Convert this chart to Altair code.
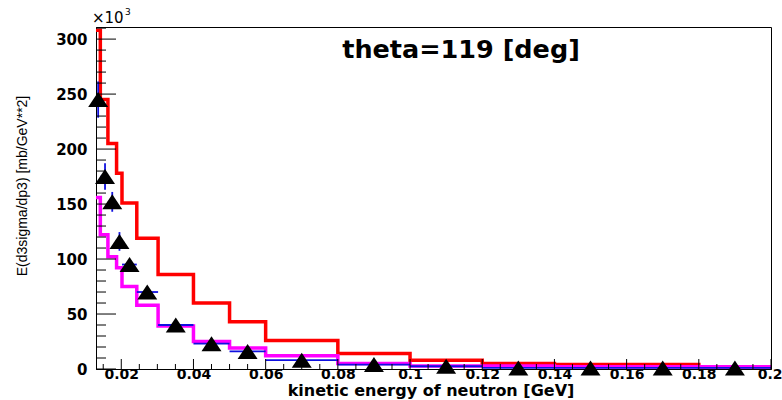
import altair as alt
import pandas as pd

# ---------------- data ----------------
bin_edges = [0.013, 0.0142, 0.0163, 0.0187, 0.0202, 0.0243, 0.0302, 0.04, 0.05,
             0.06, 0.08, 0.1, 0.12, 0.14, 0.16, 0.18, 0.2]
red_values = [308, 245, 205, 178, 151, 119, 86, 60, 43, 26, 14, 8, 5, 4, 4, 2]
magenta_values = [156, 122, 102, 92, 75, 58, 39, 25, 19, 12, 5, 2.7, 2.7, 2, 2, 2]

point_x = [0.0136, 0.0155, 0.0175, 0.0195, 0.0223, 0.0272, 0.0351, 0.045, 0.055,
           0.07, 0.09, 0.11, 0.13, 0.15, 0.17, 0.19]
point_y = [245, 175, 152, 116, 95, 70, 40, 23, 16, 8, 4, 2.5, 1, 1, 1, 1]
point_err = [16.5, 12, 9, 8.5, 5, 3.5, 2.5, 2, 1.5, 1, 0.6, 0.4, 0.3, 0.2, 0.2, 0.2]

x_major_ticks = [0.02, 0.04, 0.06, 0.08, 0.1, 0.12, 0.14, 0.16, 0.18, 0.2]
y_major_ticks = [0, 50, 100, 150, 200, 250, 300]

title_text = "theta=119 [deg]"
x_title = "kinetic energy of neutron [GeV]"
y_title = "E(d3sigma/dp3) [mb/GeV**2]"

X_DOMAIN = [0.013, 0.2]
Y_DOMAIN = [0, 311]

# minor tick grids
x_minor_ticks = [round(0.015 + 0.005 * i, 3) for i in range(37)]
x_minor_ticks = [v for v in x_minor_ticks if all(abs(v - m) > 1e-9 for m in x_major_ticks)]
y_minor_ticks = [10 * i for i in range(32) if (10 * i) % 50 != 0]

W, H = 675, 342

xs = alt.Scale(domain=X_DOMAIN, nice=False, zero=False)
ys = alt.Scale(domain=Y_DOMAIN, nice=False, zero=False)


def hist_frame(vals):
    return pd.DataFrame({"x": bin_edges, "y": vals + [vals[-1]]})


red_df = hist_frame(red_values)
mag_df = hist_frame(magenta_values)

pts = pd.DataFrame({
    "x": point_x,
    "y": point_y,
    "lo": [y - e for y, e in zip(point_y, point_err)],
    "hi": [y + e for y, e in zip(point_y, point_err)],
    "xlo": bin_edges[:-1],
    "xhi": bin_edges[1:],
})

x_axis = alt.Axis(values=x_major_ticks, title=None, ticks=False, tickSize=0, grid=False,
                  labelFont="DejaVu Sans", labelFontWeight="bold", labelFontSize=14,
                  labelColor="black", labelPadding=-2, labelFlush=2, labelFlushOffset=11,
                  labelOverlap=False, labelBound=False,
                  domainColor="black", labelExpr="format(datum.value, '~g')")
y_axis = alt.Axis(values=y_major_ticks, title=None, ticks=False, tickSize=0, grid=False,
                  labelFont="DejaVu Sans", labelFontWeight="bold", labelFontSize=15,
                  labelColor="black", labelPadding=9, labelFlush=False,
                  domainColor="black")

red_line = alt.Chart(red_df).mark_line(
    interpolate="step-after", color="#ff0000", strokeWidth=3.5, clip=True
).encode(x=alt.X("x:Q", scale=xs, axis=x_axis), y=alt.Y("y:Q", scale=ys, axis=y_axis))

mag_line = alt.Chart(mag_df).mark_line(
    interpolate="step-after", color="#ff00ff", strokeWidth=3.5, clip=True
).encode(x=alt.X("x:Q", scale=xs), y=alt.Y("y:Q", scale=ys))

err_v = alt.Chart(pts).mark_rule(color="#1010e0", strokeWidth=1.8).encode(
    x=alt.X("x:Q", scale=xs), y=alt.Y("lo:Q", scale=ys), y2="hi:Q")
err_h = alt.Chart(pts).mark_rule(color="#1010e0", strokeWidth=1.8).encode(
    x=alt.X("xlo:Q", scale=xs), x2="xhi:Q", y=alt.Y("y:Q", scale=ys))

tri = alt.Chart(pts).mark_point(
    shape="M-1,0.75L1,0.75L0,-0.75Z", filled=True, color="black", opacity=1, size=400
).encode(x=alt.X("x:Q", scale=xs), y=alt.Y("y:Q", scale=ys))

# inside ticks (ROOT style)
yt_major = alt.Chart(pd.DataFrame({"v": y_major_ticks})).mark_rule(color="black", strokeWidth=1).encode(
    y=alt.Y("v:Q", scale=ys), x=alt.value(0), x2=alt.value(20))
yt_minor = alt.Chart(pd.DataFrame({"v": y_minor_ticks})).mark_rule(color="black", strokeWidth=1).encode(
    y=alt.Y("v:Q", scale=ys), x=alt.value(0), x2=alt.value(10))
xt_major = alt.Chart(pd.DataFrame({"v": x_major_ticks})).mark_rule(color="black", strokeWidth=1).encode(
    x=alt.X("v:Q", scale=xs), y=alt.value(H), y2=alt.value(H - 10))
xt_minor = alt.Chart(pd.DataFrame({"v": x_minor_ticks})).mark_rule(color="black", strokeWidth=1).encode(
    x=alt.X("v:Q", scale=xs), y=alt.value(H), y2=alt.value(H - 5))

# texts
title_mark = alt.Chart(pd.DataFrame({"t": [title_text]})).mark_text(
    font="DejaVu Sans", fontWeight="bold", fontSize=25.5, color="black",
    align="center", baseline="middle"
).encode(text="t:N", x=alt.value(365), y=alt.value(23))

xtitle_mark = alt.Chart(pd.DataFrame({"t": [x_title]})).mark_text(
    font="DejaVu Sans", fontWeight="bold", fontSize=16, color="black",
    align="center", baseline="alphabetic"
).encode(text="t:N", x=alt.value(335), y=alt.value(H + 27))

ytitle_mark = alt.Chart(pd.DataFrame({"t": [y_title]})).mark_text(
    font="Liberation Sans", fontSize=14, color="black", angle=270,
    align="center", baseline="middle"
).encode(text="t:N", x=alt.value(-73), y=alt.value(159))

exp_mark = alt.Chart(pd.DataFrame({"t": ["×10"]})).mark_text(
    font="DejaVu Sans", fontSize=15, color="black", align="left", baseline="alphabetic"
).encode(text="t:N", x=alt.value(-4), y=alt.value(-4))
exp3_mark = alt.Chart(pd.DataFrame({"t": ["3"]})).mark_text(
    font="DejaVu Sans", fontSize=9, color="black", align="left", baseline="alphabetic"
).encode(text="t:N", x=alt.value(29), y=alt.value(-12))

chart = alt.layer(
    red_line, mag_line, err_h, err_v, tri,
    yt_major, yt_minor, xt_major, xt_minor,
    title_mark, xtitle_mark, ytitle_mark, exp_mark, exp3_mark
).properties(
    width=W, height=H,
    autosize=alt.AutoSizeParams(type="none"),
    padding={"left": 96, "top": 27, "right": 11, "bottom": 31},
    background="white",
).configure_view(stroke="black", strokeWidth=1)

chart.save("out.html", embed_options={"renderer": "svg", "actions": False})
